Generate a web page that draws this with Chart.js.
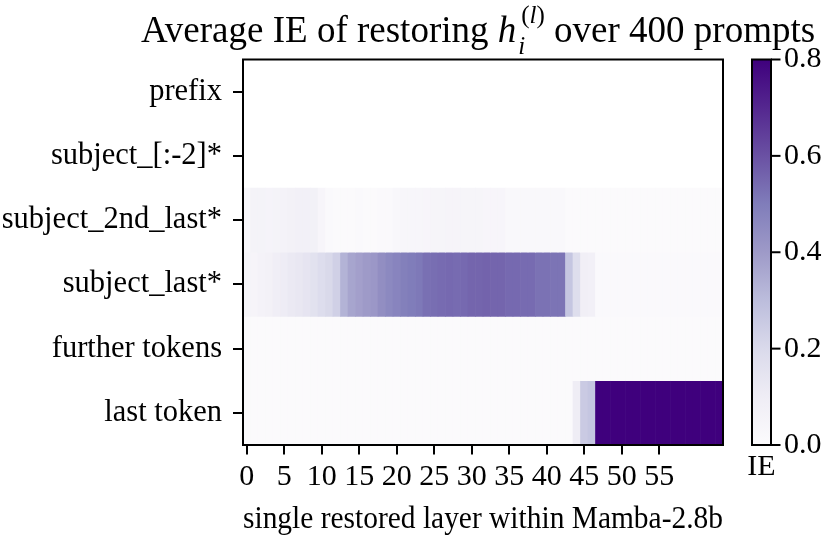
<!DOCTYPE html>
<html>
<head>
<meta charset="utf-8">
<script src="https://cdn.jsdelivr.net/npm/chart.js@4.4.1/dist/chart.umd.min.js"></script>
<style>
  html, body { margin: 0; padding: 0; background: #fff; }
  canvas { display: block; }
</style>
</head>
<body>
<canvas id="grafico" width="830" height="536"></canvas>
<script>
// filas (tokens) y capas
const filas = ["prefix", "subject_[:-2]*", "subject_2nd_last*", "subject_last*", "further tokens", "last token"];
const capas = ["0","1","2","3","4","5","6","7","8","9","10","11","12","13","14","15",
  "16","17","18","19","20","21","22","23","24","25","26","27","28","29","30","31",
  "32","33","34","35","36","37","38","39","40","41","42","43","44","45","46","47",
  "48","49","50","51","52","53","54","55","56","57","58","59","60","61","62","63"];
const ticksX = ["0","5","10","15","20","25","30","35","40","45","50","55"];
const ticksColorbar = [0, 0.2, 0.4, 0.6, 0.8];

// IE promedio por capa (sin datos para prefix y subject_[:-2]*)
const prefix = [];
const subjectHead = [];
const subject2ndLast = [0.03, 0.06, 0.06, 0.055, 0.06, 0.065, 0.07, 0.08, 0.08, 0.075,
  0.04, 0.012, 0.01, 0.01, 0.01, 0.012, 0.01, 0.01, 0.012, 0.015,
  0.03, 0.035, 0.035, 0.035, 0.04, 0.045, 0.045, 0.05, 0.05, 0.045,
  0.045, 0.045, 0.04, 0.04, 0.04, 0.025, 0.025, 0.02, 0.02, 0.02,
  0.02, 0.02, 0.02, 0.008, 0.008, 0.008, 0.008, 0.008, 0.008, 0.008,
  0.008, 0.008, 0.008, 0.008, 0.008, 0.008, 0.008, 0.008, 0.008, 0.008,
  0.008, 0.008, 0.008, 0.008];
const subjectLast = [0.045, 0.05, 0.065, 0.07, 0.09, 0.105, 0.12, 0.13, 0.145, 0.16,
  0.185, 0.205, 0.235, 0.33, 0.37, 0.385, 0.4, 0.41, 0.44, 0.46,
  0.475, 0.49, 0.5, 0.51, 0.53, 0.535, 0.54, 0.545, 0.54, 0.545,
  0.555, 0.555, 0.56, 0.555, 0.555, 0.545, 0.545, 0.54, 0.54, 0.525,
  0.525, 0.52, 0.52, 0.27, 0.18, 0.085, 0.08, 0.012, 0.012, 0.012,
  0.012, 0.012, 0.012, 0.012, 0.012, 0.012, 0.012, 0.012, 0.012, 0.012,
  0.012, 0.012, 0.012, 0.012];
const furtherTokens = [0.01, 0.01, 0.01, 0.01, 0.01, 0.01, 0.01, 0.01, 0.01, 0.01,
  0.01, 0.01, 0.01, 0.01, 0.01, 0.01, 0.01, 0.01, 0.01, 0.01,
  0.01, 0.01, 0.01, 0.01, 0.01, 0.01, 0.01, 0.01, 0.01, 0.01,
  0.01, 0.01, 0.01, 0.01, 0.01, 0.01, 0.01, 0.01, 0.01, 0.01,
  0.01, 0.01, 0.01, 0.01, 0.01, 0.01, 0.01, 0.01, 0.01, 0.01,
  0.01, 0.01, 0.01, 0.01, 0.01, 0.01, 0.01, 0.01, 0.01, 0.01,
  0.01, 0.01, 0.01, 0.01];
const lastToken = [0.01, 0.01, 0.01, 0.01, 0.01, 0.01, 0.01, 0.01, 0.01, 0.01,
  0.01, 0.01, 0.01, 0.01, 0.01, 0.01, 0.01, 0.01, 0.01, 0.01,
  0.01, 0.01, 0.01, 0.01, 0.01, 0.01, 0.01, 0.01, 0.01, 0.01,
  0.01, 0.01, 0.01, 0.01, 0.01, 0.01, 0.01, 0.01, 0.01, 0.01,
  0.01, 0.01, 0.01, 0.01, 0.1, 0.255, 0.27, 0.84, 0.86, 0.83,
  0.85, 0.82, 0.85, 0.84, 0.86, 0.85, 0.83, 0.85, 0.86, 0.84,
  0.85, 0.86, 0.84, 0.85];
const series = [prefix, subjectHead, subject2ndLast, subjectLast, furtherTokens, lastToken];
const vmax = 0.8;

// mapa de color "Purples"
const purples = ["#fcfbfd", "#efedf5", "#dadaeb", "#bcbddc", "#9e9ac8", "#807dba", "#6a51a3", "#54278f", "#3f007d"];
function hexRgb(h) {
  return [parseInt(h.slice(1, 3), 16), parseInt(h.slice(3, 5), 16), parseInt(h.slice(5, 7), 16)];
}
function colorIE(v) {
  const t = Math.max(0, Math.min(1, v / vmax)) * (purples.length - 1);
  const i = Math.min(Math.floor(t), purples.length - 2);
  const f = t - i;
  const a = hexRgb(purples[i]), b = hexRgb(purples[i + 1]);
  const c = a.map((x, k) => Math.round(x + (b[k] - x) * f));
  return `rgb(${c[0]},${c[1]},${c[2]})`;
}

const fuente = '"Liberation Serif", "Times New Roman", serif';

// marco, barra de color y titulo
const extras = {
  id: "extras",
  afterDatasetsDraw(chart) {
    const { ctx, chartArea: a } = chart;
    ctx.save();
    ctx.strokeStyle = "#000";
    ctx.lineWidth = 2;
    ctx.strokeRect(a.left, a.top, a.right - a.left, a.bottom - a.top);
    ctx.restore();
  },
  afterDraw(chart) {
    const { ctx, chartArea: a } = chart;
    ctx.save();
    // barra de color
    const cx = 752, cw = 19, top = a.top, bot = a.bottom;
    const grad = ctx.createLinearGradient(0, bot, 0, top);
    purples.forEach((c, i) => grad.addColorStop(i / (purples.length - 1), c));
    ctx.fillStyle = grad;
    ctx.fillRect(cx, top, cw, bot - top);
    ctx.strokeStyle = "#000";
    ctx.lineWidth = 2;
    ctx.strokeRect(cx, top, cw, bot - top);
    ctx.fillStyle = "#000";
    ctx.font = "30px " + fuente;
    ctx.textAlign = "left";
    ctx.textBaseline = "middle";
    ticksColorbar.forEach((v) => {
      const y = bot - (v / vmax) * (bot - top);
      ctx.beginPath();
      ctx.moveTo(cx + cw, y);
      ctx.lineTo(cx + cw + 9.5, y);
      ctx.stroke();
      ctx.fillText(v.toFixed(1), cx + cw + 13, y);
    });
    ctx.textAlign = "center";
    ctx.fillText("IE", cx + cw / 2, 467);

    // titulo con h_i^(l)
    const parte1 = "Average IE of restoring ";
    const parte2 = " over 400 prompts";
    const normal = "37px " + fuente, cursiva = "italic 37px " + fuente;
    const chica = "25px " + fuente, chicaCursiva = "italic 25px " + fuente;
    ctx.font = normal; const w1 = ctx.measureText(parte1).width; const w2 = ctx.measureText(parte2).width;
    ctx.font = cursiva; const wh = ctx.measureText("h").width;
    ctx.font = chicaCursiva; const wi = ctx.measureText("i").width; const wl = ctx.measureText("l").width;
    ctx.font = chica; const wp = ctx.measureText("(").width;
    const wsup = 3 + wp * 2 + wl;
    const total = w1 + wh + 2 + Math.max(wi, wsup) + w2;
    let x = 478 - total / 2;
    const base = 42;
    ctx.textAlign = "left";
    ctx.textBaseline = "alphabetic";
    ctx.font = normal; ctx.fillText(parte1, x, base); x += w1;
    ctx.font = cursiva; ctx.fillText("h", x, base); x += wh + 2;
    ctx.font = chicaCursiva; ctx.fillText("i", x, base + 12);
    let xs = x + 3;
    ctx.font = chica; ctx.fillText("(", xs, base - 19); xs += wp;
    ctx.font = chicaCursiva; ctx.fillText("l", xs, base - 19); xs += wl;
    ctx.font = chica; ctx.fillText(")", xs, base - 19); xs += wp;
    x = Math.max(x + wi, xs);
    ctx.font = normal; ctx.fillText(parte2, x, base);
    ctx.restore();
  }
};

new Chart(document.getElementById("grafico"), {
  type: "bar",
  data: {
    labels: capas,
    datasets: filas.map((nombre, r) => ({
      label: nombre,
      data: series[r].map(() => [r - 0.5, r + 0.5]),
      backgroundColor: series[r].map(colorIE),
      borderWidth: 0,
      grouped: false,
      barPercentage: 1,
      categoryPercentage: 1,
    })),
  },
  options: {
    responsive: false,
    animation: false,
    devicePixelRatio: 1,
    layout: { padding: { left: 0, right: 107, top: 59.5, bottom: 0 } },
    plugins: { legend: { display: false }, tooltip: { enabled: false }, title: { display: false } },
    scales: {
      x: {
        type: "category",
        offset: true,
        grid: { offset: false, drawOnChartArea: false, drawTicks: true, tickLength: 9.5, color: "#000", lineWidth: 2 },
        border: { display: false },
        ticks: {
          autoSkip: false,
          maxRotation: 0,
          padding: 5,
          color: "#000",
          font: { family: fuente, size: 30 },
          callback: (val, i) => (ticksX.includes(capas[i]) ? capas[i] : null),
        },
        title: {
          display: true,
          text: "single restored layer within Mamba-2.8b",
          color: "#000",
          font: { family: fuente, size: 32, lineHeight: 1.05 },
          padding: 0,
        },
        afterFit: (s) => { s.height = 91; },
      },
      y: {
        type: "linear",
        min: -0.5,
        max: 5.5,
        reverse: true,
        afterBuildTicks: (s) => { s.ticks = filas.map((f, i) => ({ value: i })); },
        grid: { drawOnChartArea: false, drawTicks: true, tickLength: 10, color: "#000", lineWidth: 2 },
        border: { display: false },
        ticks: {
          padding: 11,
          color: "#000",
          font: { family: fuente, size: 30.5 },
          callback: (v) => filas[v],
        },
        afterFit: (s) => { s.width = 243; },
      },
    },
  },
  plugins: [extras],
});
</script>
</body>
</html>
